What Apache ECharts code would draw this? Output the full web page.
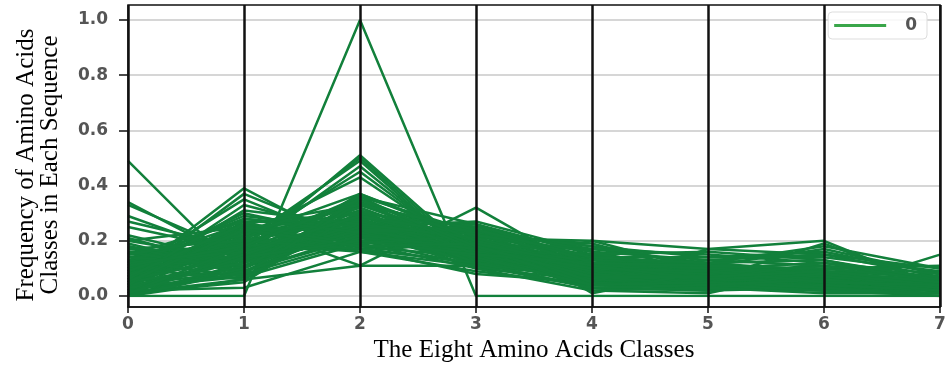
<!DOCTYPE html>
<html>
<head>
<meta charset="utf-8">
<script src="https://cdn.jsdelivr.net/npm/echarts@6/dist/echarts.min.js"></script>
<style>html,body{margin:0;padding:0;background:#fff}#c{width:949px;height:368px}</style>
</head>
<body>
<div id="c"></div>
<script>
// Eight amino acid classes (x positions)
const classes = [0, 1, 2, 3, 4, 5, 6, 7];
const yTicks = [0, 0.2, 0.4, 0.6, 0.8, 1.0];
const legendName = '0';
const xTitle = 'The Eight Amino Acids Classes';
const yTitle = 'Frequency of Amino Acids\nClasses in Each Sequence';
// Frequencies per sequence (one row = one sequence, 8 classes)
const sequences = [
  [0.00, 0.00, 1.00, 0.00, 0.00, 0.00, 0.00, 0.00],
  [0.49, 0.07, 0.30, 0.12, 0.03, 0.02, 0.05, 0.02],
  [0.34, 0.12, 0.25, 0.10, 0.06, 0.04, 0.03, 0.03],
  [0.33, 0.15, 0.22, 0.13, 0.05, 0.06, 0.04, 0.02],
  [0.29, 0.14, 0.28, 0.11, 0.07, 0.05, 0.04, 0.02],
  [0.27, 0.17, 0.26, 0.12, 0.06, 0.04, 0.06, 0.03],
  [0.25, 0.16, 0.24, 0.14, 0.05, 0.05, 0.08, 0.02],
  [0.22, 0.12, 0.30, 0.13, 0.08, 0.06, 0.05, 0.04],
  [0.21, 0.10, 0.27, 0.15, 0.09, 0.08, 0.06, 0.03],
  [0.20, 0.13, 0.25, 0.16, 0.10, 0.05, 0.07, 0.04],
  [0.07, 0.39, 0.17, 0.12, 0.09, 0.07, 0.06, 0.03],
  [0.06, 0.37, 0.20, 0.11, 0.08, 0.06, 0.08, 0.04],
  [0.09, 0.35, 0.18, 0.14, 0.07, 0.05, 0.07, 0.05],
  [0.05, 0.33, 0.22, 0.12, 0.10, 0.07, 0.06, 0.05],
  [0.10, 0.30, 0.21, 0.15, 0.08, 0.06, 0.05, 0.05],
  [0.12, 0.28, 0.24, 0.13, 0.08, 0.05, 0.06, 0.04],
  [0.04, 0.27, 0.26, 0.14, 0.10, 0.08, 0.07, 0.04],
  [0.08, 0.25, 0.28, 0.16, 0.09, 0.06, 0.05, 0.03],
  [0.03, 0.24, 0.30, 0.17, 0.11, 0.07, 0.05, 0.03],
  [0.11, 0.22, 0.27, 0.18, 0.09, 0.06, 0.04, 0.03],
  [0.02, 0.21, 0.33, 0.19, 0.10, 0.07, 0.05, 0.03],
  [0.14, 0.20, 0.29, 0.15, 0.08, 0.07, 0.05, 0.02],
  [0.13, 0.19, 0.31, 0.14, 0.09, 0.05, 0.06, 0.03],
  [0.06, 0.18, 0.34, 0.16, 0.10, 0.06, 0.07, 0.03],
  [0.15, 0.17, 0.32, 0.17, 0.07, 0.06, 0.04, 0.02],
  [0.01, 0.16, 0.35, 0.20, 0.11, 0.08, 0.06, 0.03],
  [0.16, 0.15, 0.33, 0.18, 0.07, 0.05, 0.04, 0.02],
  [0.09, 0.14, 0.36, 0.16, 0.09, 0.07, 0.06, 0.03],
  [0.17, 0.13, 0.29, 0.19, 0.08, 0.06, 0.05, 0.03],
  [0.00, 0.12, 0.37, 0.21, 0.12, 0.08, 0.07, 0.03],
  [0.18, 0.11, 0.27, 0.20, 0.09, 0.06, 0.06, 0.03],
  [0.05, 0.10, 0.34, 0.22, 0.11, 0.08, 0.07, 0.03],
  [0.19, 0.09, 0.26, 0.21, 0.10, 0.07, 0.05, 0.03],
  [0.02, 0.08, 0.36, 0.23, 0.12, 0.09, 0.07, 0.03],
  [0.00, 0.06, 0.33, 0.24, 0.13, 0.10, 0.09, 0.05],
  [0.01, 0.06, 0.30, 0.25, 0.14, 0.11, 0.08, 0.05],
  [0.03, 0.07, 0.28, 0.26, 0.15, 0.10, 0.07, 0.04],
  [0.04, 0.09, 0.25, 0.27, 0.16, 0.08, 0.07, 0.04],
  [0.00, 0.11, 0.23, 0.24, 0.17, 0.12, 0.08, 0.05],
  [0.02, 0.13, 0.21, 0.23, 0.18, 0.11, 0.09, 0.03],
  [0.08, 0.15, 0.19, 0.22, 0.19, 0.08, 0.06, 0.03],
  [0.06, 0.17, 0.17, 0.21, 0.20, 0.09, 0.07, 0.03],
  [0.10, 0.19, 0.16, 0.20, 0.15, 0.10, 0.06, 0.04],
  [0.12, 0.21, 0.18, 0.19, 0.13, 0.07, 0.06, 0.04],
  [0.07, 0.23, 0.20, 0.18, 0.12, 0.09, 0.07, 0.04],
  [0.04, 0.26, 0.22, 0.17, 0.14, 0.08, 0.06, 0.03],
  [0.11, 0.29, 0.24, 0.10, 0.12, 0.06, 0.05, 0.03],
  [0.13, 0.24, 0.26, 0.11, 0.11, 0.07, 0.05, 0.03],
  [0.08, 0.20, 0.28, 0.12, 0.14, 0.09, 0.06, 0.03],
  [0.03, 0.14, 0.31, 0.13, 0.15, 0.10, 0.08, 0.06],
  [0.05, 0.16, 0.51, 0.14, 0.06, 0.03, 0.03, 0.02],
  [0.06, 0.18, 0.50, 0.13, 0.05, 0.03, 0.03, 0.02],
  [0.04, 0.20, 0.49, 0.12, 0.06, 0.04, 0.03, 0.02],
  [0.07, 0.17, 0.47, 0.13, 0.07, 0.04, 0.03, 0.02],
  [0.05, 0.19, 0.45, 0.14, 0.06, 0.05, 0.04, 0.02],
  [0.03, 0.22, 0.43, 0.15, 0.07, 0.04, 0.04, 0.02],
  [0.10, 0.06, 0.11, 0.11, 0.20, 0.17, 0.15, 0.10],
  [0.12, 0.26, 0.11, 0.32, 0.08, 0.05, 0.04, 0.02],
  [0.09, 0.21, 0.17, 0.08, 0.05, 0.17, 0.20, 0.03],
  [0.15, 0.27, 0.16, 0.09, 0.04, 0.06, 0.19, 0.04],
  [0.07, 0.19, 0.24, 0.17, 0.13, 0.12, 0.18, 0.10],
  [0.10, 0.23, 0.27, 0.16, 0.12, 0.03, 0.02, 0.15],
  [0.06, 0.14, 0.26, 0.19, 0.02, 0.01, 0.10, 0.11],
  [0.08, 0.18, 0.22, 0.26, 0.01, 0.09, 0.02, 0.09],
  [0.11, 0.13, 0.25, 0.23, 0.18, 0.14, 0.16, 0.08],
  [0.14, 0.11, 0.23, 0.25, 0.16, 0.13, 0.15, 0.07],
  [0.16, 0.09, 0.21, 0.18, 0.17, 0.15, 0.12, 0.06],
  [0.18, 0.08, 0.20, 0.16, 0.15, 0.16, 0.13, 0.05],
  [0.13, 0.07, 0.19, 0.22, 0.14, 0.14, 0.14, 0.09],
  [0.05, 0.12, 0.24, 0.24, 0.11, 0.11, 0.17, 0.08],
  [0.02, 0.15, 0.29, 0.19, 0.09, 0.13, 0.11, 0.07],
  [0.09, 0.24, 0.32, 0.15, 0.03, 0.02, 0.03, 0.01],
  [0.00, 0.10, 0.35, 0.18, 0.04, 0.03, 0.02, 0.01],
  [0.01, 0.05, 0.31, 0.20, 0.05, 0.02, 0.04, 0.02],
  [0.17, 0.20, 0.17, 0.12, 0.03, 0.04, 0.02, 0.00],
  [0.20, 0.25, 0.19, 0.10, 0.02, 0.03, 0.01, 0.01],
  [0.04, 0.28, 0.23, 0.14, 0.04, 0.05, 0.03, 0.00],
  [0.06, 0.31, 0.26, 0.21, 0.10, 0.09, 0.10, 0.06],
  [0.03, 0.08, 0.34, 0.17, 0.13, 0.12, 0.09, 0.07],
  [0.12, 0.16, 0.29, 0.22, 0.16, 0.06, 0.08, 0.04],
  [0.15, 0.22, 0.37, 0.20, 0.10, 0.08, 0.11, 0.06],
  [0.01, 0.18, 0.36, 0.26, 0.12, 0.10, 0.12, 0.08],
  [0.07, 0.26, 0.33, 0.24, 0.14, 0.12, 0.13, 0.06],
  [0.02, 0.03, 0.16, 0.11, 0.03, 0.04, 0.06, 0.02],
  [0.00, 0.09, 0.22, 0.17, 0.10, 0.09, 0.05, 0.04],
  [0.01, 0.14, 0.20, 0.15, 0.12, 0.11, 0.10, 0.06],
  [0.05, 0.24, 0.18, 0.19, 0.11, 0.06, 0.12, 0.05],
  [0.11, 0.18, 0.35, 0.18, 0.07, 0.07, 0.09, 0.05]
];

const lineColor = '#12803b';
const chart = echarts.init(document.getElementById('c'), null, {renderer: 'canvas'});

const series = sequences.map(row => ({
  type: 'line',
  name: legendName,
  xAxisIndex: 0,
  yAxisIndex: 0,
  data: row.map((v, i) => [classes[i], v]),
  showSymbol: false,
  symbol: 'none',
  silent: true,
  lineStyle: {color: lineColor, width: 2.5},
  itemStyle: {color: lineColor},
  z: 3
}));

const tickFont = {color: '#555', fontSize: 17, fontWeight: 'bold', fontFamily: 'DejaVu Sans'};

chart.setOption({
  animation: false,
  backgroundColor: '#fff',
  grid: [
    {left: 128, right: 9, top: 20, bottom: 72, show: false},
    {left: 128, right: 9, top: 5, bottom: 56, show: true, borderColor: '#111', borderWidth: 1.5, backgroundColor: 'transparent', z: 10}
  ],
  legend: {
    data: [{name: legendName, itemStyle: {color: '#3aa64a'}}],
    right: 22, top: 12,
    icon: 'rect', itemWidth: 52, itemHeight: 3,
    padding: [5, 10, 5, 6],
    borderColor: '#ddd', borderWidth: 1, borderRadius: 4,
    backgroundColor: 'rgba(255,255,255,0.85)',
    textStyle: {color: '#555', fontSize: 17, fontWeight: 'bold', fontFamily: 'DejaVu Sans', padding: [0, 0, 0, 14]},
    z: 20
  },
  xAxis: [
    {type: 'value', gridIndex: 0, min: 0, max: 7, show: false},
    {type: 'value', gridIndex: 1, min: 0, max: 7, interval: 1, z: 10,
     axisLine: {show: true, lineStyle: {color: '#111', width: 1.5}},
     axisTick: {show: true, length: 6, lineStyle: {color: '#111', width: 1.5}},
     axisLabel: Object.assign({margin: 9}, tickFont),
     splitLine: {show: true, lineStyle: {color: '#111', width: 2.5}},
     name: xTitle, nameLocation: 'middle', nameGap: 28,
     nameTextStyle: {fontFamily: 'Liberation Serif', fontSize: 25, color: '#000'}}
  ],
  yAxis: [
    {type: 'value', gridIndex: 0, min: 0, max: 1, interval: 0.2,
     axisLine: {show: false},
     axisTick: {show: true, length: 9, lineStyle: {color: '#111', width: 1.5}},
     axisLabel: Object.assign({margin: 20, formatter: v => v.toFixed(1)}, tickFont),
     splitLine: {show: true, lineStyle: {color: '#c8c8c8', width: 1.5}},
     name: yTitle, nameLocation: 'middle', nameGap: 66, nameRotate: 90,
     nameTextStyle: {fontFamily: 'Liberation Serif', fontSize: 25, lineHeight: 24, color: '#000', padding: [0, 14, 0, 0]}},
    {type: 'value', gridIndex: 1, min: 0, max: 1, show: false}
  ],
  series: series
});
</script>
</body>
</html>
